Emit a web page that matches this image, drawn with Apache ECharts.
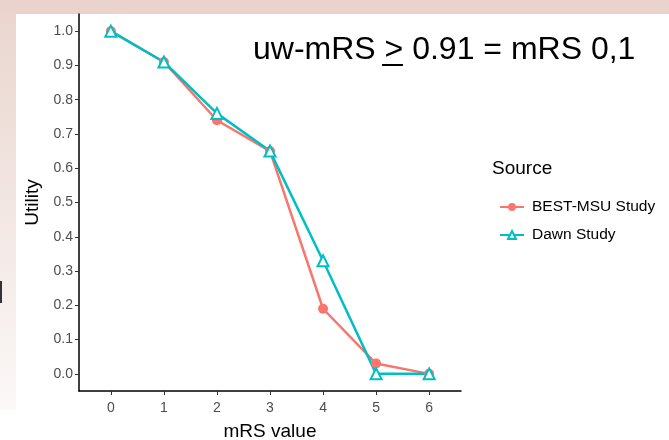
<!DOCTYPE html>
<html>
<head>
<meta charset="utf-8">
<script src="https://cdn.jsdelivr.net/npm/echarts@6/dist/echarts.min.js"></script>
<style>
html,body{margin:0;padding:0;background:#fff;}
#chart{width:669px;height:440px;}
</style>
</head>
<body>
<div id="chart"></div>
<script>
const mrsValues = [0, 1, 2, 3, 4, 5, 6];
const bestMsu = [1.0, 0.91, 0.74, 0.65, 0.19, 0.03, 0.0];
const dawn = [1.0, 0.91, 0.76, 0.65, 0.33, 0.0, 0.0];
const yTicks = [0, 0.1, 0.2, 0.3, 0.4, 0.5, 0.6, 0.7, 0.8, 0.9, 1.0];
const seriesNames = ['BEST-MSU Study', 'Dawn Study'];

const chart = echarts.init(document.getElementById('chart'), null, {renderer: 'canvas'});
const font = 'Liberation Sans, Arial, sans-serif';
chart.setOption({
  animation: false,
  backgroundColor: '#ffffff',
  grid: {left: 79, right: 208, top: 14, bottom: 49, containLabel: false, outerBoundsMode: 'none'},
  xAxis: {
    type: 'value', min: -0.6, max: 6.6,
    name: 'mRS value', nameLocation: 'middle', nameGap: 31,
    nameTextStyle: {color: '#000', fontSize: 19, fontFamily: font},
    axisLine: {show: true, onZero: false, lineStyle: {color: '#000', width: 1.5}},
    axisTick: {show: true, length: 4, customValues: mrsValues, lineStyle: {color: '#333', width: 1}},
    axisLabel: {customValues: mrsValues, color: '#4D4D4D', fontSize: 14, fontFamily: font, margin: 10},
    splitLine: {show: false}
  },
  yAxis: {
    type: 'value', min: -0.05, max: 1.05,
    name: 'Utility', nameLocation: 'middle', nameGap: 34, nameRotate: 90,
    nameTextStyle: {color: '#000', fontSize: 19, fontFamily: font},
    axisLine: {show: true, onZero: false, lineStyle: {color: '#000', width: 1.5}},
    axisTick: {show: true, length: 4, customValues: yTicks, lineStyle: {color: '#333', width: 1}},
    axisLabel: {customValues: yTicks, color: '#4D4D4D', fontSize: 14, fontFamily: font, margin: 6,
      formatter: v => v.toFixed(1)},
    splitLine: {show: false}
  },
  legend: {
    orient: 'vertical', left: 494, top: 194, itemGap: 12, itemWidth: 24, itemHeight: 10,
    textStyle: {color: '#000', fontSize: 15.5, fontFamily: font, padding: [0, 0, 0, 3]},
    data: seriesNames
  },
  series: [
    {name: seriesNames[0], type: 'line', data: mrsValues.map((x, i) => [x, bestMsu[i]]),
     symbol: 'circle', symbolSize: 10, color: '#F8766D',
     lineStyle: {width: 2.5, color: '#F8766D'}, itemStyle: {color: '#F8766D'}},
    {name: seriesNames[1], type: 'line', data: mrsValues.map((x, i) => [x, dawn[i]]),
     symbol: 'emptyTriangle', symbolSize: 11, color: '#00BFC4',
     lineStyle: {width: 2.5, color: '#00BFC4'}, itemStyle: {color: '#00BFC4', borderColor: '#00BFC4', borderWidth: 1}}
  ],
  graphic: [
    {type: 'rect', shape: {x: 0, y: 0, width: 669, height: 14}, style: {fill: '#E9D3CC'}, z: -10, silent: true},
    {type: 'rect', shape: {x: 0, y: 14, width: 16, height: 396},
     style: {fill: new echarts.graphic.LinearGradient(0, 0, 0, 1, [
       {offset: 0, color: '#EAD6CF'}, {offset: 1, color: '#FBF8F7'}])}, z: -10, silent: true},
    {type: 'rect', shape: {x: 0, y: 281, width: 2, height: 22}, style: {fill: '#333'}, z: -9, silent: true},
    {type: 'text', left: 492, top: 159,
     style: {text: 'Source', fill: '#000', fontSize: 19, fontFamily: font}},
    {type: 'text', left: 253, top: 34,
     style: {text: 'uw-mRS > 0.91 = mRS 0,1', fill: '#000', fontSize: 32, fontFamily: font}},
    {type: 'line', shape: {x1: 382, y1: 65, x2: 403, y2: 65}, style: {stroke: '#000', lineWidth: 2}}
  ]
});
</script>
</body>
</html>
